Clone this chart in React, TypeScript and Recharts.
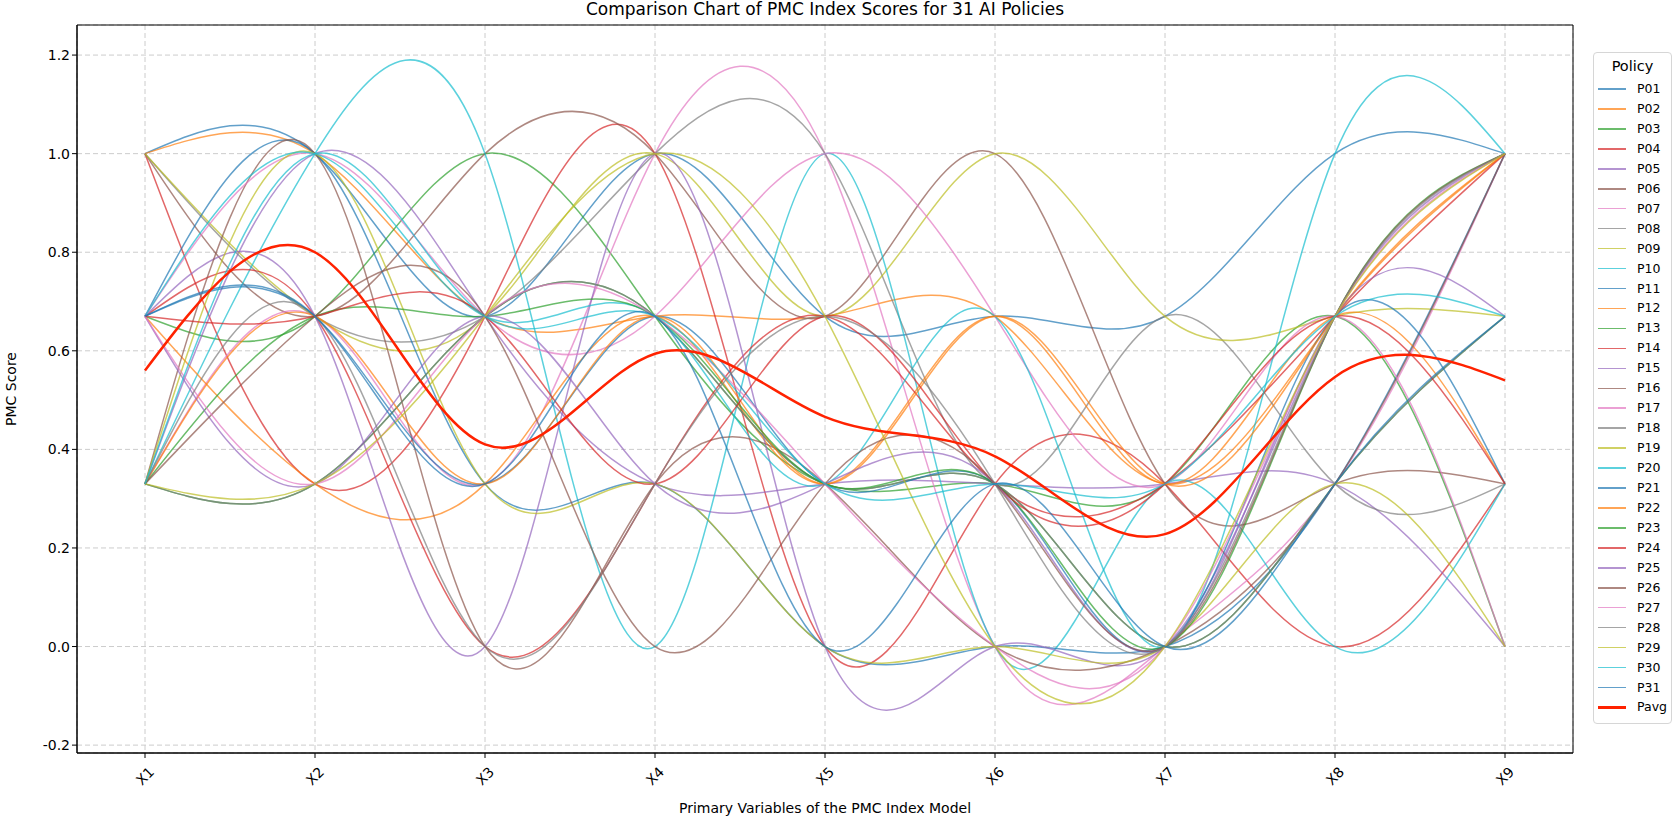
import React from "react";
import {
  LineChart, Line, XAxis, YAxis, CartesianGrid, ReferenceArea,
} from "recharts";

const X_LABELS = ["X1", "X2", "X3", "X4", "X5", "X6", "X7", "X8", "X9"];
const Y_TICKS = [-0.2, 0, 0.2, 0.4, 0.6, 0.8, 1.0, 1.2];

// PMC scores per policy on X1..X9
const P01 = [1, 1, 0.67, 1, 0.67, 0.67, 0.67, 1, 1];
const P02 = [1, 1, 0.67, 0.67, 0.67, 0.67, 0.33, 0.67, 1];
const P03 = [0.67, 0.67, 1, 0.67, 0.33, 0.33, 0.33, 0.67, 0];
const P04 = [1, 0.33, 0.67, 1, 0, 0.33, 0.33, 0, 0.33];
const P05 = [0.33, 1, 0.67, 0.33, 0.33, 0.33, 0.33, 0.33, 0];
const P06 = [1, 0.67, 1, 1, 0.67, 1, 0.33, 0.33, 0.33];
const P07 = [0.33, 0.67, 0.33, 1, 1, 0, 0, 0.33, 1];
const P08 = [1, 0.67, 0.67, 1, 1, 0.33, 0.67, 0.33, 0.33];
const P09 = [1, 0.67, 0.67, 1, 0.67, 1, 0.67, 0.67, 0.67];
const P10 = [0.33, 1, 1, 0, 1, 0, 0.33, 0, 0.33];
const P11 = [0.67, 1, 0.33, 0.33, 0, 0, 0, 0.33, 1];
const P12 = [0.67, 0.33, 0.33, 0.67, 0.33, 0.67, 0.33, 0.67, 0.33];
const P13 = [0.33, 0.33, 0.67, 0.67, 0.33, 0.33, 0, 0.33, 0.67];
const P14 = [0.67, 0.67, 0, 0.33, 0.67, 0.33, 0.33, 0.67, 1];
const P15 = [0.67, 0.67, 0, 1, 0, 0, 0, 0.67, 1];
const P16 = [0.33, 1, 0, 0.33, 0.33, 0, 0, 0.33, 1];
const P17 = [0.67, 1, 0.67, 0.67, 1, 0.67, 0.33, 0.67, 0];
const P18 = [0.33, 0.33, 0.67, 0.67, 0.33, 0.33, 0, 0.33, 0.67];
const P19 = [0.33, 1, 0.33, 0.33, 0, 0, 0, 0.33, 0];
const P20 = [0.67, 1, 0.67, 0.67, 0.33, 0.67, 0, 1, 1];
const P21 = [0.67, 0.67, 0.33, 0.67, 0.33, 0.33, 0, 0.67, 0.33];
const P22 = [0.33, 0.67, 0.33, 0.67, 0.33, 0.67, 0.33, 0.67, 1];
const P23 = [0.33, 0.67, 0.67, 0.67, 0.33, 0.33, 0, 0.67, 1];
const P24 = [0.67, 0.67, 0.67, 0.33, 0.67, 0.33, 0.33, 0.67, 0.33];
const P25 = [0.67, 0.33, 0.67, 0.33, 0.33, 0.33, 0, 0.67, 0.67];
const P26 = [0.33, 0.67, 0.67, 0, 0.33, 0.33, 0, 0.67, 1];
const P27 = [0.67, 0.33, 0.67, 0.67, 0.33, 0, 0, 0.67, 1];
const P28 = [0.33, 0.67, 0, 0.33, 0.67, 0.33, 0, 0.67, 1];
const P29 = [0.33, 0.33, 0.67, 1, 0.67, 0, 0, 0.67, 1];
const P30 = [0.33, 1, 0.67, 0.67, 0.33, 0.33, 0.33, 0.67, 0.67];
const P31 = [0.67, 0.67, 0.33, 0.67, 0, 0.33, 0, 0.33, 0.67];
const PAVG = [0.56, 0.8, 0.41, 0.594, 0.466, 0.386, 0.228, 0.547, 0.54];

const POLICIES = [
  P01, P02, P03, P04, P05, P06, P07, P08, P09, P10,
  P11, P12, P13, P14, P15, P16, P17, P18, P19, P20,
  P21, P22, P23, P24, P25, P26, P27, P28, P29, P30, P31,
];
const POLICY_NAMES = POLICIES.map((_, i) => `P${String(i + 1).padStart(2, "0")}`);

const TAB10 = [
  "#1f77b4", "#ff7f0e", "#2ca02c", "#d62728", "#9467bd",
  "#8c564b", "#e377c2", "#7f7f7f", "#bcbd22", "#17becf",
];
const AVG_COLOR = "#ff2200";

const data = X_LABELS.map((label, i) => {
  const row: Record<string, number | string> = { x: i, label };
  POLICIES.forEach((vals, p) => { row[POLICY_NAMES[p]] = vals[i]; });
  row.Pavg = PAVG[i];
  return row;
});

const FONT = '"DejaVu Sans", sans-serif';
const Y_DOMAIN = [-0.216, 1.261];

function RotatedTick({ x, y, payload }: any) {
  const cy = y + 16;
  return (
    <text
      x={x} y={cy} textAnchor="middle" dominantBaseline="central"
      fontSize={14} fontFamily={FONT} fill="#000"
      transform={`rotate(-45, ${x}, ${cy})`}
    >
      {X_LABELS[payload.value]}
    </text>
  );
}

function PolicyLegend() {
  const rows = [
    ...POLICY_NAMES.map((n, i) => ({ name: n, color: TAB10[i % 10], w: 1.5, op: 0.7 })),
    { name: "Pavg", color: AVG_COLOR, w: 2.5, op: 1 },
  ];
  return (
    <div style={{
      position: "absolute", left: 1593, top: 52, width: 79, height: 672,
      border: "1px solid #d6d6d6", borderRadius: 4, background: "#fff",
      boxSizing: "border-box", fontFamily: FONT,
    }}>
      <div style={{ position: "absolute", top: 3, width: "100%", textAlign: "center", fontSize: 14.5, lineHeight: "20px" }}>
        Policy
      </div>
      {rows.map((r, i) => (
        <div key={r.name} style={{ position: "absolute", left: 0, top: 26 + i * 19.95, height: 20, width: "100%" }}>
          <div style={{
            position: "absolute", left: 4, top: 10 - r.w / 2, width: 28, height: r.w,
            background: r.color, opacity: r.op,
          }} />
          <div style={{ position: "absolute", left: 43, top: 1, fontSize: 12.5, lineHeight: "18px" }}>
            {r.name}
          </div>
        </div>
      ))}
    </div>
  );
}

export default function App() {
  return (
    <div style={{ position: "absolute", left: 0, top: 0, width: 1675, height: 817, background: "#fff", fontFamily: FONT }}>
      <div style={{ position: "absolute", top: 0, left: 77, width: 1496, textAlign: "center", fontSize: 17, lineHeight: "19px" }}>
        Comparison Chart of PMC Index Scores for 31 AI Policies
      </div>
      <LineChart
        width={1675}
        height={817}
        data={data}
        margin={{ top: 25, right: 102, bottom: 24, left: 27 }}
      >
        <CartesianGrid stroke="#cccccc" strokeDasharray="5 3" />
        <XAxis
          type="number"
          dataKey="x"
          domain={[-0.4, 8.4]}
          ticks={[0, 1, 2, 3, 4, 5, 6, 7, 8]}
          interval={0}
          allowDataOverflow
          height={40}
          tick={<RotatedTick />}
          tickSize={5}
          tickLine={{ stroke: "#000" }}
          axisLine={{ stroke: "#000" }}
        />
        <YAxis
          type="number"
          domain={Y_DOMAIN}
          ticks={Y_TICKS}
          allowDataOverflow
          width={50}
          tickSize={5}
          tickFormatter={(v: number) => v.toFixed(1)}
          tick={{ fontSize: 14, fill: "#000", fontFamily: FONT }}
          tickLine={{ stroke: "#000" }}
          axisLine={{ stroke: "#000" }}
        />
        {POLICY_NAMES.map((name, i) => (
          <Line
            key={name}
            type="natural"
            dataKey={name}
            stroke={TAB10[i % 10]}
            strokeOpacity={0.7}
            strokeWidth={1.5}
            dot={false}
            isAnimationActive={false}
          />
        ))}
        <Line
          type="natural"
          dataKey="Pavg"
          stroke={AVG_COLOR}
          strokeWidth={2.5}
          dot={false}
          isAnimationActive={false}
        />
        <ReferenceArea
          x1={-0.4} x2={8.4} y1={Y_DOMAIN[0]} y2={Y_DOMAIN[1]}
          fill="none" fillOpacity={0} stroke="#000" strokeWidth={1}
        />
      </LineChart>
      <div style={{ position: "absolute", top: 800, left: 77, width: 1496, textAlign: "center", fontSize: 14 }}>
        Primary Variables of the PMC Index Model
      </div>
      <div style={{
        position: "absolute", left: 11, top: 389, transform: "translate(-50%, -50%) rotate(-90deg)",
        fontSize: 14, whiteSpace: "nowrap",
      }}>
        PMC Score
      </div>
      <PolicyLegend />
    </div>
  );
}
